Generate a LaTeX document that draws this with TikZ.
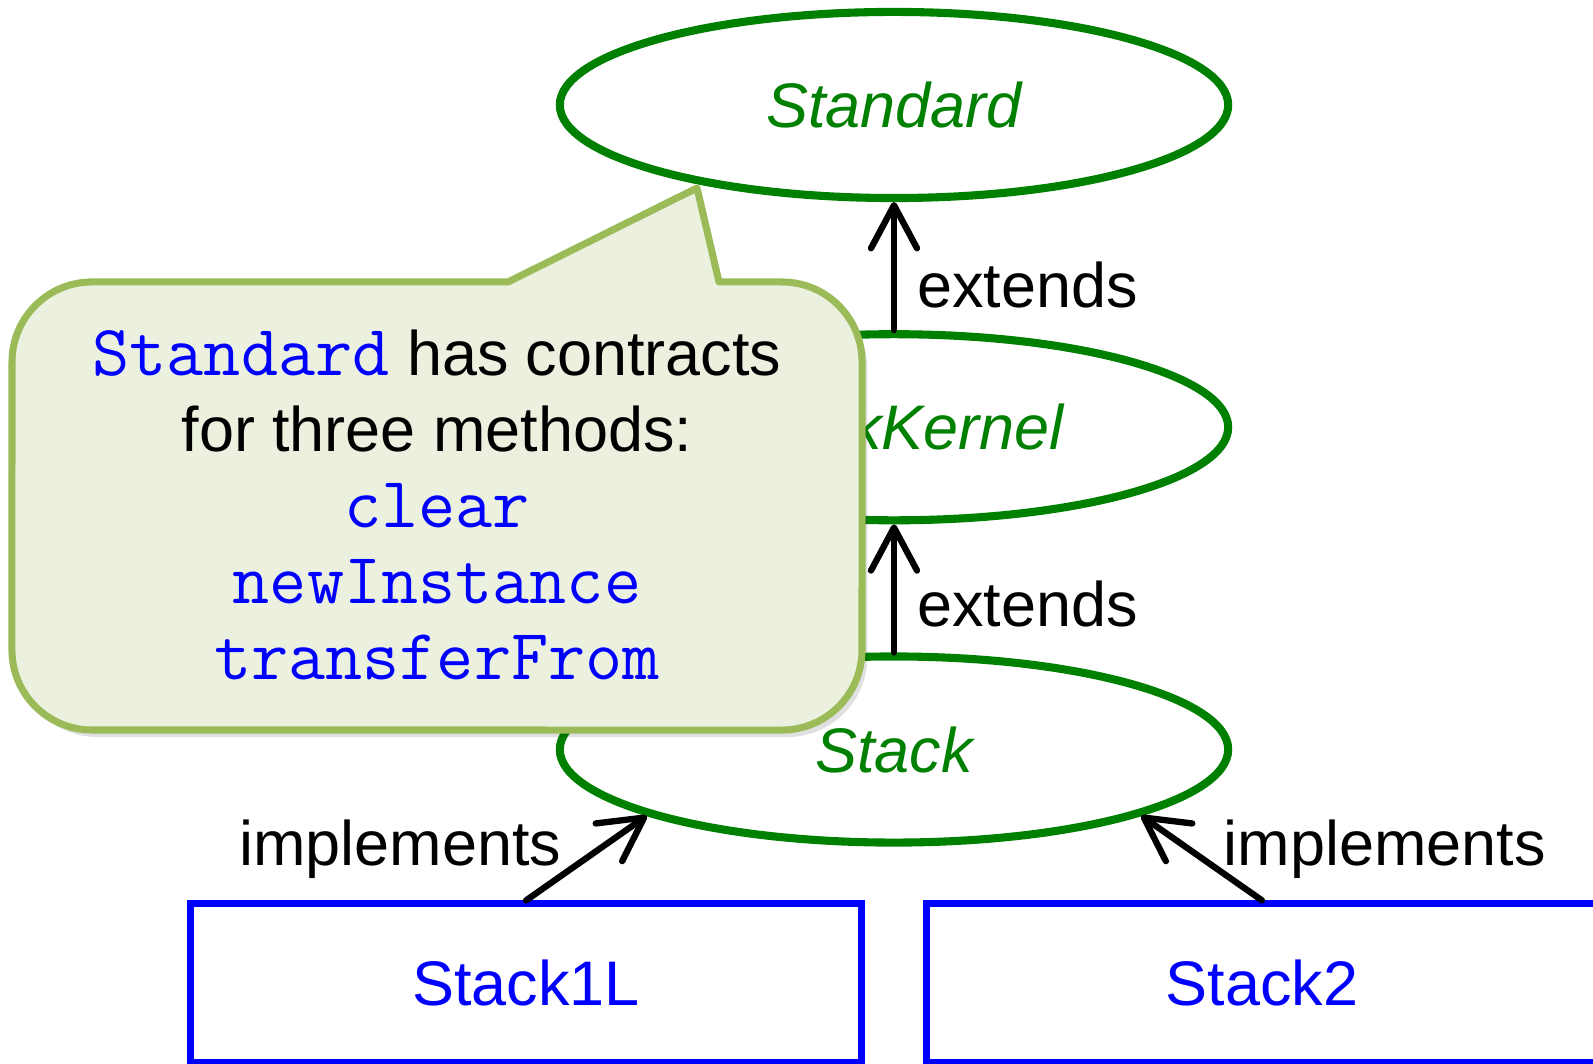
\documentclass[tikz,border=0pt]{standalone}
\usepackage{fontspec}
\setmainfont{Liberation Sans}
\usetikzlibrary{arrows.meta,positioning,shapes.geometric}
\definecolor{ovalgreen}{HTML}{008000}
\definecolor{codeblue}{HTML}{0000FF}
\definecolor{notefill}{HTML}{EBF1DE}
\definecolor{noteline}{HTML}{9BBB59}
\newcommand{\bigtext}{\fontsize{17.9pt}{21.6pt}\selectfont}
\newcommand{\code}[1]{{\color{codeblue}\fontsize{20.5pt}{21.6pt}\selectfont\ttfamily #1}}
\tikzset{
  oval/.style   = {ellipse, draw=ovalgreen, line width=2.3pt, minimum width=6.68cm,
                   minimum height=1.86cm, inner sep=0pt, text=ovalgreen, font=\bigtext\itshape},
  impl/.style   = {rectangle, draw=codeblue, line width=2pt, minimum width=6.71cm,
                   minimum height=1.58cm, inner sep=0pt, text=codeblue, font=\bigtext},
  flow/.style   = {-{Straight Barb[round,length=4.3mm,width=4.6mm]}, line width=1.8pt, line cap=round},
  lbl/.style    = {font=\bigtext, inner sep=0pt},
  note/.style   = {fill=notefill, draw=noteline, line width=2pt, line join=round,
                   preaction={fill=black, fill opacity=0.12, transform canvas={xshift=1.5pt,yshift=-2pt}}},
}
\begin{document}
\begin{tikzpicture}[x=0.01cm, y=0.01cm]
    \useasboundingbox (0,0) rectangle (1593,1064);
    \clip (0,0) rectangle (1593,1064);
    \node[oval] (std) at (894,959) {Standard};
    \node[oval,below=1.28cm of std] (kern) {StackKernel};
    \node[oval,below=1.28cm of kern] (stack) {Stack};
    \node[impl] (one) at (526,81) {Stack1L};
    \node[impl] (two) at (1262,81) {Stack2};
    \draw[flow] (kern) -- (std) node[lbl,anchor=west,pos=0.35,xshift=2mm] {extends};
    \draw[flow] (stack) -- (kern) node[lbl,anchor=west,pos=0.38,xshift=2mm] {extends};
    \draw[flow] (one.north) -- (stack.195) node[lbl,anchor=east,pos=0.6,xshift=-3.4mm] {implements};
    \draw[flow] (two.north) -- (stack.345) node[lbl,anchor=west,pos=0.6,xshift=3.1mm] {implements};
    \draw[note] (508,782) -- (697,876) -- (719,782) -- (782,782)
        arc[start angle=90,end angle=0,radius=0.8cm] -- (862,414)
        arc[start angle=0,end angle=-90,radius=0.8cm] -- (92,334)
        arc[start angle=-90,end angle=-180,radius=0.8cm] -- (12,702)
        arc[start angle=180,end angle=90,radius=0.8cm] -- cycle;
    \node[lbl,align=center] (memo) at (437,559) {\code{Standard} has contracts\\
      for three methods:\\ \code{clear}\\ \code{newInstance}\\ \code{transferFrom}};
  \end{tikzpicture}
\end{document}
